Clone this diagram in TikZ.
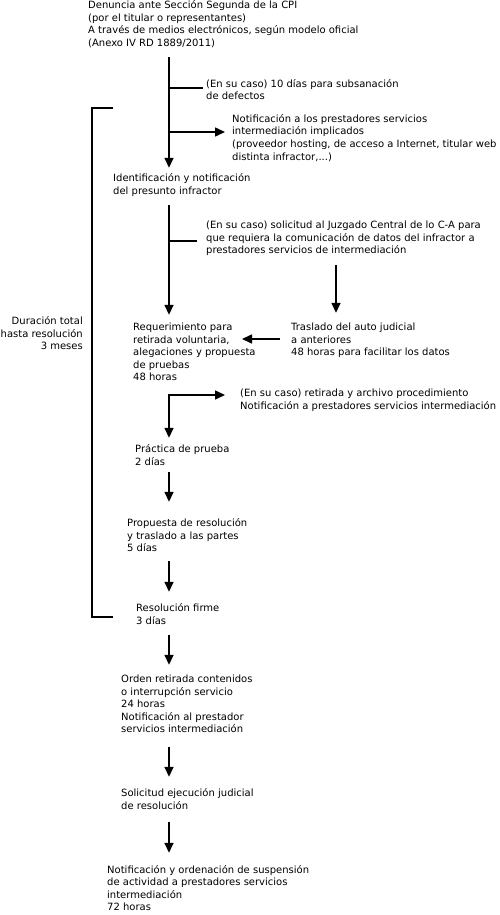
\documentclass[tikz,border=0pt]{standalone}
\usepackage{fontspec}
\setmainfont{DejaVu Sans}
\usetikzlibrary{arrows.meta}
\newcommand{\tb}[1]{\fontsize{10}{12.5}\selectfont\begin{tabular}[t]{@{}l@{}}#1\end{tabular}}
\newcommand{\tbr}[1]{\fontsize{10}{12.5}\selectfont\begin{tabular}[t]{@{}r@{}}#1\end{tabular}}
\begin{document}
\begin{tikzpicture}[x=1pt,y=-1pt,
  txt/.style={anchor=base west, inner sep=0pt},
  txtr/.style={anchor=base east, inner sep=0pt},
  line/.style={line width=1.5pt, black},
  arr/.style={line width=1.5pt, black, -{Triangle[length=10pt,width=9pt]}}]
\useasboundingbox (0,0) rectangle (500,915);
\coordinate (sx) at (169,0);

\node[txt] (top) at (88,9) {\tb{Denuncia ante Sección Segunda de la CPI\\(por el titular o representantes)\\A través de medios electrónicos, según modelo oficial\\(Anexo IV RD 1889/2011)}};
\node[txt] (sub) at (206,87.5) {\tb{(En su caso) 10 días para subsanación\\de defectos}};
\node[txt] (notif) at (232,122.5) {\tb{Notificación a los prestadores servicios\\intermediación implicados\\(proveedor hosting, de acceso a Internet, titular web\\distinta infractor,...)}};
\node[txt] (ident) at (113,181.5) {\tb{Identificación y notificación\\del presunto infractor}};
\node[txt] (solic) at (206,228.5) {\tb{(En su caso) solicitud al Juzgado Central de lo C-A para\\que requiera la comunicación de datos del infractor a\\prestadores servicios de intermediación}};
\node[txt] (req) at (133,330.5) {\tb{Requerimiento para\\retirada voluntaria,\\alegaciones y propuesta\\de pruebas\\48 horas}};
\node[txt] (trasl) at (291,330.5) {\tb{Traslado del auto judicial\\a anteriores\\48 horas para facilitar los datos}};
\node[txt] (retir) at (240,396.5) {\tb{(En su caso) retirada y archivo procedimiento\\Notificación a prestadores servicios intermediación}};
\node[txt] (pract) at (135,452.5) {\tb{Práctica de prueba\\2 días}};
\node[txt] (prop) at (127,526.5) {\tb{Propuesta de resolución\\y traslado a las partes\\5 días}};
\node[txt] (resol) at (136,611.5) {\tb{Resolución firme\\3 días}};
\node[txt] (orden) at (121,682.5) {\tb{Orden retirada contenidos\\o interrupción servicio\\24 horas\\Notificación al prestador\\servicios intermediación}};
\node[txt] (solej) at (121,796.5) {\tb{Solicitud ejecución judicial\\de resolución}};
\node[txt] (final) at (107,873) {\tb{Notificación y ordenación de suspensión\\de actividad a prestadores servicios\\intermediación\\72 horas}};
\node[txtr] (dur) at (83,324.5) {\tbr{Duración total\\hasta resolución\\3 meses}};

% bracket
\draw[line] (113,108) -- (92,108) -- (92,617) -- (113,617);

% main flow
\draw[arr, shorten <=6.75pt, shorten >=4.75pt] (top.south -| sx) -- (ident.north -| sx);
\coordinate (b1) at (203,88);
\draw[line] (b1 -| sx) -- (b1);
\coordinate (b2) at (225,132);
\draw[arr] (b2 -| sx) -- (b2);

\draw[arr, shorten <=7.25pt, shorten >=6.75pt] (ident.south -| sx) -- (req.north -| sx);
\coordinate (b3) at (197,241);
\draw[line] (b3 -| sx) -- (b3);

\coordinate (tx) at (336,0);
\draw[arr, shorten <=7.75pt, shorten >=8.75pt] (solic.south -| tx) -- (trasl.north -| tx);
\coordinate (rqe) at (242,339);
\draw[arr, shorten <=11pt] (trasl.west |- rqe) -- (rqe);

\coordinate (elb) at (169,395);
\draw[arr, shorten >=15pt] ([xshift=-0.75pt]elb) -- (retir.west |- elb);
\draw[arr, shorten >=5.75pt] (elb) -- (pract.north -| elb);

\draw[arr, shorten <=3.25pt, shorten >=15.75pt] (pract.south -| sx) -- (prop.north -| sx);
\draw[arr, shorten <=5.75pt, shorten >=10.75pt] (prop.south -| sx) -- (resol.north -| sx);
\draw[arr, shorten <=7.25pt, shorten >=8.75pt] (resol.south -| sx) -- (orden.north -| sx);
\draw[arr, shorten <=10.75pt, shorten >=10.75pt] (orden.south -| sx) -- (solej.north -| sx);
\draw[arr, shorten <=9.25pt, shorten >=11.25pt] (solej.south -| sx) -- (final.north -| sx);
\end{tikzpicture}
\end{document}
